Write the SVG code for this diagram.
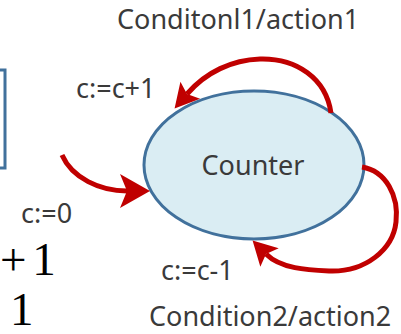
<svg xmlns="http://www.w3.org/2000/svg" width="401" height="334" viewBox="0 0 401 334">
<style>
.lbl{font-family:"Noto Sans","Open Sans",sans-serif;font-size:27px;fill:#3a3a3a}
.math{font-family:"Liberation Serif","DejaVu Serif",serif;font-size:47px;fill:#000}
.arc{fill:none;stroke:#C00000;stroke-width:5}
.nodeline{stroke:#41719C;stroke-width:3}
</style>
<defs>
<marker id="head" markerUnits="userSpaceOnUse" markerWidth="40" markerHeight="40" refX="5" refY="13" orient="auto" overflow="visible">
<path d="M0,0 L24,13 L0,26 L5,13 z" fill="#C00000"/>
</marker>
<marker id="headL" markerUnits="userSpaceOnUse" markerWidth="40" markerHeight="40" refX="7" refY="17" orient="auto" overflow="visible">
<path d="M0,0 L30,17 L0,34 L7,17 z" fill="#C00000"/>
</marker>
</defs>
<rect width="401" height="334" fill="#fff"/>
<g id="box">
<rect x="-20" y="70" width="25" height="98" fill="#fff" class="nodeline"/>
</g>
<g id="counter">
<ellipse cx="254" cy="165" rx="110" ry="74" fill="#DAEDF3" class="nodeline"/>
<text x="253" y="175" text-anchor="middle" class="lbl">Counter</text>
</g>
<g id="connectors">
<path class="arc" d="M331,113 C326,78 296,58 260,59 C232,60 206,72 187,94" marker-end="url(#head)"/>
<path class="arc" d="M62,155 C72,178 100,191 127,191" marker-end="url(#headL)"/>
<path class="arc" d="M362,167 C386,171 399,196 396,222 C393,250 365,272 330,271 C308,270 281,269 266,254" marker-end="url(#head)"/>
</g>
<g id="labels">
<text x="117" y="29" class="lbl">Conditonl1/action1</text>
<text x="76" y="98" class="lbl">c:=c+1</text>
<text x="21" y="223" class="lbl">c:=0</text>
<text x="161" y="280" class="lbl">c:=c-1</text>
<text x="149" y="326" class="lbl">Condition2/action2</text>
<text x="0" y="275" class="math" word-spacing="-6">+ 1</text>
<text x="10" y="325" class="math">1</text>
</g>
</svg>
